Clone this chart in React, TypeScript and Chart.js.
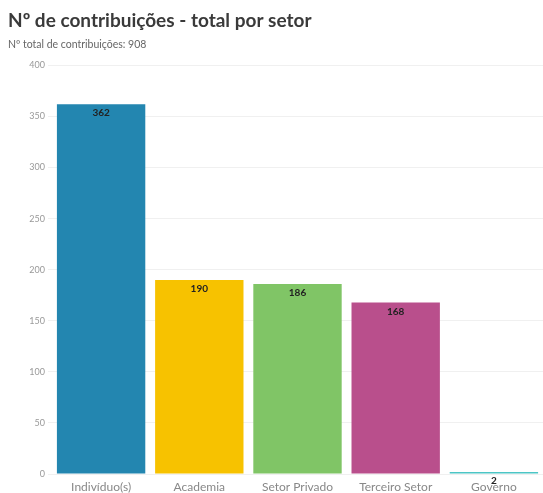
import React, { useEffect, useRef } from "react";
import { Chart, registerables } from "chart.js";

Chart.register(...registerables);

const categories = ["Indivíduo(s)", "Academia", "Setor Privado", "Terceiro Setor", "Governo"];
const values = [362, 190, 186, 168, 2];
const barColors = ["#2386b0", "#f7c200", "#80c566", "#b94f8c", "#4cc6c6"];
const titleText = "Nº de contribuições - total por setor";
const subtitleText = "Nº total de contribuições: 908";

const valueLabels = {
  id: "valueLabels",
  afterDatasetsDraw(chart: any) {
    const ctx = chart.ctx;
    const meta = chart.getDatasetMeta(0);
    ctx.save();
    ctx.font = "bold 10px Lato";
    ctx.fillStyle = "#222";
    ctx.textAlign = "center";
    ctx.textBaseline = "middle";
    meta.data.forEach((bar: any, i: number) => {
      ctx.fillText(String(values[i]), bar.x, bar.y + 9);
    });
    ctx.restore();
  },
};

export default function App() {
  const ref = useRef<HTMLCanvasElement>(null);
  useEffect(() => {
    document.body.style.margin = "0";
    const chart = new Chart(ref.current!, {
      type: "bar",
      data: {
        labels: categories,
        datasets: [
          {
            data: values,
            backgroundColor: barColors,
            barPercentage: 0.9,
            categoryPercentage: 1,
          },
        ],
      },
      options: {
        animation: false,
        responsive: false,
        layout: { padding: { left: 8, right: 0, top: 0, bottom: 0 } },
        plugins: {
          legend: { display: false },
          tooltip: { enabled: false },
          title: {
            display: true,
            text: titleText,
            align: "start",
            color: "#3a3a3a",
            font: { family: "Lato", size: 19, weight: "bold", lineHeight: 1.2 },
            padding: { top: 9, bottom: 0 },
          },
          subtitle: {
            display: true,
            text: subtitleText,
            align: "start",
            color: "#666",
            font: { family: "Lato", size: 10.5, lineHeight: 1.2 },
            padding: { top: 7, bottom: 14 },
          },
        },
        scales: {
          y: {
            min: 0,
            max: 400,
            ticks: {
              stepSize: 50,
              color: "#999",
              font: { family: "Lato", size: 9 },
              padding: 3,
            },
            grid: { color: "#f0f0f0", tickLength: 4, drawTicks: true },
            border: { display: false },
            afterFit: (s: any) => {
              s.width = 44;
            },
          },
          x: {
            ticks: {
              color: "#888",
              font: { family: "Lato", size: 12 },
              padding: 6,
              maxRotation: 0,
            },
            grid: { display: false, drawTicks: false },
            border: { display: false },
            afterFit: (s: any) => {
              s.height = 19;
            },
          },
        },
      },
      plugins: [valueLabels],
    });
    return () => chart.destroy();
  }, []);
  return (
    <div style={{ width: 543, height: 493, overflow: "hidden", background: "#fff" }}>
      <canvas ref={ref} width={543} height={493} style={{ display: "block" }} />
    </div>
  );
}
